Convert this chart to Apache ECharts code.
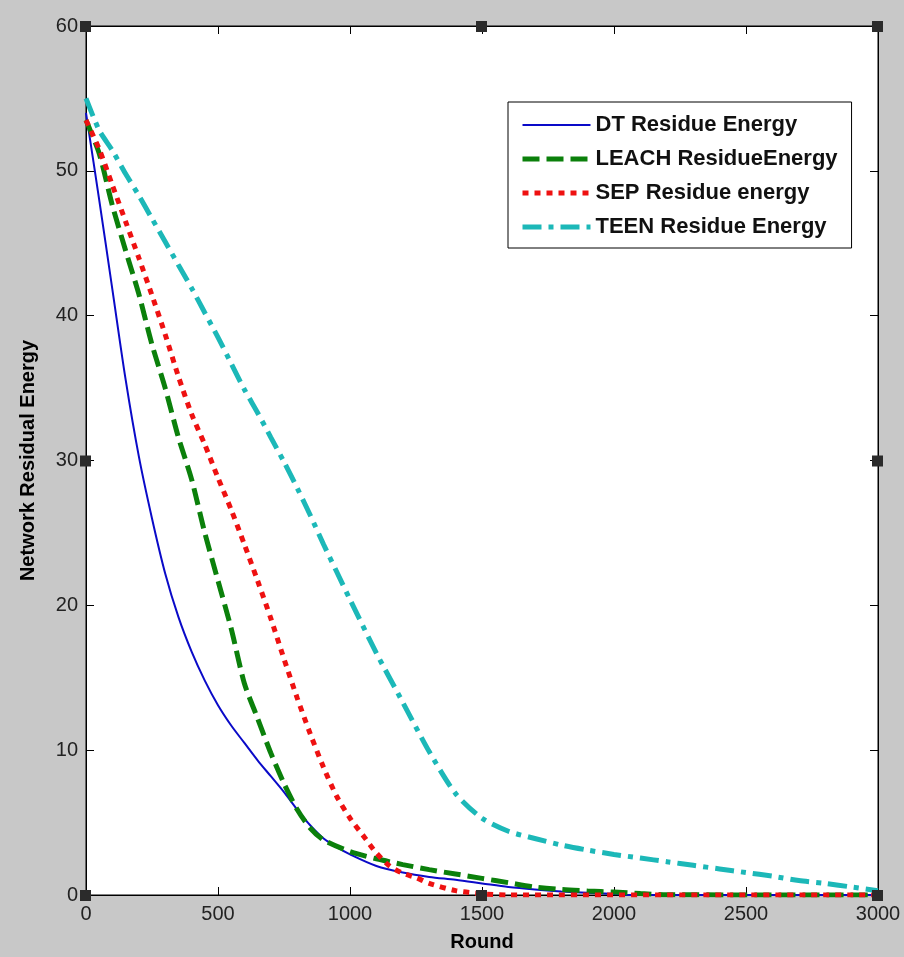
<!DOCTYPE html>
<html>
<head>
<meta charset="utf-8">
<script src="https://cdn.jsdelivr.net/npm/echarts@6/dist/echarts.min.js"></script>
<style>
html,body{margin:0;padding:0;background:#c8c8c8;}
#chart{width:904px;height:957px;}
</style>
</head>
<body>
<div id="chart"></div>
<script>
// ---- data ----
const xTicks = [0, 500, 1000, 1500, 2000, 2500, 3000];
const yTicks = [0, 10, 20, 30, 40, 50, 60];

const dtRounds = [0,50,100,150,200,250,300,350,400,450,500,550,600,650,700,750,800,850,900,950,1000,1100,1200,1300,1400,1500,1600,1700,1800,1900,2000,2050,3000];
const dtValues = [54,48,41.8,35.6,30.3,26,22.2,19.2,16.8,14.8,13.1,11.7,10.5,9.3,8.2,7.1,5.9,4.8,3.9,3.3,2.8,2.0,1.55,1.25,1.05,0.8,0.55,0.38,0.25,0.15,0.08,0,0];

const leachRounds = [0,50,100,150,200,250,300,350,400,450,500,550,600,650,700,750,800,850,900,1000,1100,1200,1300,1400,1500,1600,1700,1800,1900,2000,2100,2200,3000];
const leachValues = [53.5,51.2,47.6,44.5,41.5,38,35,31.6,28.7,25,21.7,18.4,14.6,12.2,9.8,7.7,5.9,4.6,3.8,3.0,2.5,2.1,1.75,1.45,1.15,0.85,0.55,0.38,0.28,0.2,0.1,0.02,0];

const sepRounds = [0,50,100,150,200,250,300,350,400,450,500,550,600,650,700,750,800,850,900,950,1000,1050,1100,1150,1200,1250,1300,1400,1500,1600,3000];
const sepValues = [53.5,51.5,49,46.5,44,41.4,38.7,35.8,33.2,31.1,28.8,26.6,24.2,21.7,19.1,16.3,13.6,11.1,8.8,6.8,5.3,4.1,2.9,2.0,1.5,1.2,0.8,0.3,0.08,0,0];

const teenRounds = [0,50,100,150,200,250,300,350,400,450,500,550,600,650,700,750,800,850,900,950,1000,1100,1200,1300,1400,1500,1600,1700,1800,1900,2000,2100,2200,2300,2400,2500,2600,2700,2800,2900,3000];
const teenValues = [55,52.8,51.4,49.8,48.3,46.7,45.1,43.5,41.9,40.2,38.5,36.7,34.9,33.3,31.6,29.9,28.1,26.2,24.2,22.3,20.4,16.7,13.3,9.9,7.0,5.3,4.4,3.9,3.45,3.1,2.8,2.55,2.3,2.05,1.8,1.55,1.3,1.0,0.8,0.55,0.3];

const seriesNames = ['DT Residue Energy', 'LEACH ResidueEnergy', 'SEP Residue energy', 'TEEN Residue Energy'];

function pairs(xs, ys) { return xs.map((x, i) => [x, ys[i]]); }

const chart = echarts.init(document.getElementById('chart'), null, {renderer: 'canvas'});

const tickFont = {fontFamily: 'Liberation Sans, Arial, sans-serif', fontSize: 20, color: '#222'};
const styles = [
  {color: '#0a0ac8', width: 2, type: 'solid'},
  {color: '#0b800b', width: 5, type: [17, 7]},
  {color: '#ee1111', width: 5, type: [6, 6]},
  {color: '#1cb8b8', width: 5, type: [19, 7, 5, 7]}
];

const option = {
  backgroundColor: '#c8c8c8',
  animation: false,
  grid: {left: 86, right: 26, top: 26, bottom: 60, show: true, backgroundColor: '#ffffff', borderColor: '#000', borderWidth: 1},
  legend: {
    data: seriesNames.map((n, i) => ({name: n, itemStyle: {opacity: 0}, lineStyle: {width: styles[i].width, type: styles[i].type, color: styles[i].color, cap: 'butt'}})),
    orient: 'vertical',
    left: 508, top: 102,
    padding: [12, 14, 10, 12],
    itemWidth: 68, itemHeight: 14, itemGap: 12,
    backgroundColor: '#ffffff', borderColor: '#000', borderWidth: 1,
    textStyle: {fontFamily: 'Liberation Sans, Arial, sans-serif', fontSize: 22, fontWeight: 'bold', color: '#111'}
  },
  xAxis: [{
    type: 'value', min: 0, max: 3000, interval: 500,
    name: 'Round', nameLocation: 'middle', nameGap: 37,
    nameTextStyle: {fontFamily: 'Liberation Sans, Arial, sans-serif', fontSize: 20, fontWeight: 'bold', color: '#000'},
    axisLine: {show: true, onZero: false, lineStyle: {color: '#000', width: 1}},
    axisTick: {show: true, inside: true, length: 8, lineStyle: {color: '#000'}},
    axisLabel: Object.assign({margin: 9, formatter: v => String(v)}, tickFont),
    splitLine: {show: false}
  }, {
    type: 'value', min: 0, max: 3000, interval: 500, position: 'top',
    axisLine: {show: true, onZero: false, lineStyle: {color: '#000'}},
    axisTick: {show: true, inside: true, length: 8, lineStyle: {color: '#000'}},
    axisLabel: {show: false}, splitLine: {show: false}
  }],
  yAxis: [{
    type: 'value', min: 0, max: 60, interval: 10,
    name: 'Network Residual Energy', nameLocation: 'middle', nameGap: 48, nameRotate: 90,
    nameTextStyle: {fontFamily: 'Liberation Sans, Arial, sans-serif', fontSize: 20, fontWeight: 'bold', color: '#000'},
    axisLine: {show: true, onZero: false, lineStyle: {color: '#000', width: 1}},
    axisTick: {show: true, inside: true, length: 8, lineStyle: {color: '#000'}},
    axisLabel: Object.assign({margin: 8}, tickFont),
    splitLine: {show: false}
  }, {
    type: 'value', min: 0, max: 60, interval: 10, position: 'right',
    axisLine: {show: true, onZero: false, lineStyle: {color: '#000'}},
    axisTick: {show: true, inside: true, length: 8, lineStyle: {color: '#000'}},
    axisLabel: {show: false}, splitLine: {show: false}
  }],
  series: [
    {name: seriesNames[0], type: 'line', data: pairs(dtRounds, dtValues), showSymbol: false, symbol: 'none', smooth: 0.3,
     lineStyle: {color: styles[0].color, width: styles[0].width}, itemStyle: {color: styles[0].color}},
    {name: seriesNames[1], type: 'line', data: pairs(leachRounds, leachValues), showSymbol: false, symbol: 'none', smooth: 0.25,
     lineStyle: {color: styles[1].color, width: 5, type: styles[1].type, cap: 'butt'}, itemStyle: {color: styles[1].color}},
    {name: seriesNames[2], type: 'line', data: pairs(sepRounds, sepValues), showSymbol: false, symbol: 'none', smooth: 0.25,
     lineStyle: {color: styles[2].color, width: 5, type: styles[2].type, cap: 'butt'}, itemStyle: {color: styles[2].color}},
    {name: seriesNames[3], type: 'line', data: pairs(teenRounds, teenValues), showSymbol: false, symbol: 'none', smooth: 0.25,
     lineStyle: {color: styles[3].color, width: 5, type: styles[3].type, cap: 'butt'}, itemStyle: {color: styles[3].color}}
  ]
};
chart.setOption(option);

// selection handles at corners and midpoints of the axes box
const handlePts = [[0,60],[1500,60],[3000,60],[0,30],[3000,30],[0,0],[1500,0],[3000,0]];
const handles = handlePts.map(p => {
  const px = chart.convertToPixel({xAxisIndex: 0, yAxisIndex: 0}, p);
  return {type: 'rect', shape: {x: px[0] - 6, y: px[1] - 5, width: 11, height: 11}, style: {fill: '#2b2b2b'}, z: 100};
});
chart.setOption({graphic: handles});
</script>
</body>
</html>
